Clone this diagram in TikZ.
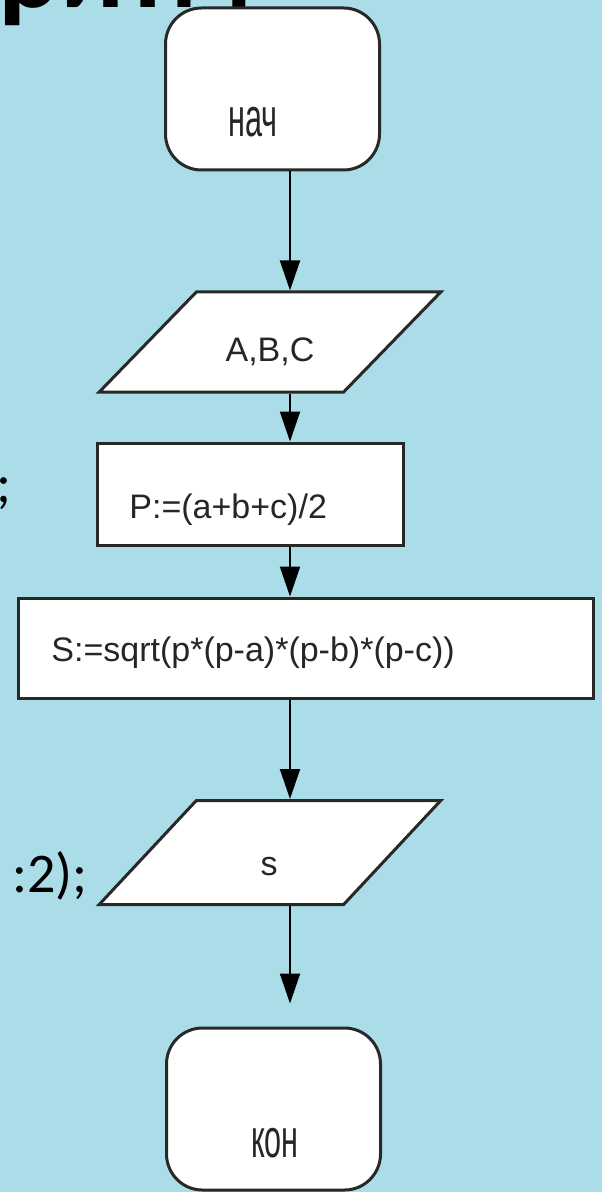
\documentclass[tikz,border=0pt]{standalone}
\usepackage{fontspec}
\setmainfont{Liberation Sans}
\newfontfamily\slidefont{Carlito}
\usetikzlibrary{shapes.geometric,arrows.meta}
\definecolor{water}{RGB}{170,221,231}
\definecolor{edge}{RGB}{40,40,40}

\begin{document}
\begin{tikzpicture}[x=0.5pt,y=-0.5pt,
  term/.style={draw=edge,fill=white,line width=1.5pt,rounded corners=18pt,
    minimum width=107pt,minimum height=81pt},
  io/.style={trapezium,trapezium stretches=true,trapezium left angle=56.6,
    trapezium right angle=123.4,draw=edge,fill=white,line width=1.5pt,
    minimum width=171pt,minimum height=50pt},
  proc/.style={rectangle,draw=edge,fill=white,line width=1.5pt,minimum height=51pt},
  lbl/.style={inner sep=0,text=black!85,font=\fontsize{17}{17}\selectfont},
  flow/.style={line width=1pt,-{Triangle[length=15pt,width=10pt]}}]

\useasboundingbox (0,0) rectangle (602,1192);
\fill[water] (0,0) rectangle (602,1192);
\begin{scope}
\clip (0,0) rectangle (602,1192);

% slide text behind the chart
\node[font=\slidefont\bfseries\fontsize{58}{58}\selectfont,anchor=base east,inner sep=0] (title) at (253,8) {ритм};
\node[font=\slidefont\fontsize{28}{28}\selectfont,anchor=base east,inner sep=0] (semiA) at (12,502) {;};
\node[font=\slidefont\fontsize{28}{28}\selectfont,anchor=base east,inner sep=0] (semiB) at (88,892) {:2);};

% blocks
\node[term] (start) at (272.5,89) {};
\node[io] (in) at (270,342) {};
\node[proc,minimum width=153pt] (calcP) at (250,494) {};
\node[proc,minimum width=287.5pt,minimum height=50pt] (calcS) at (305.5,648) {};
\node[io,minimum height=52pt] (out) at (270,852.5) {};
\node[term] (stop) at (273.5,1109) {};

% texts
\node[lbl] (startT) at (253,122) {\scalebox{0.9}[1.6]{нач}};
\node[lbl] (inT) at (270,352) {A,B,C};
\node[lbl,anchor=west] (calcPT) at (129,510) {P:=(a+b+c)/2};
\node[lbl,anchor=west] (calcST) at (51,653) {S:=sqrt(p*(p-a)*(p-b)*(p-c))};
\node[lbl] (outT) at (269,867) {s};
\node[lbl] (stopT) at (275,1143) {\scalebox{0.9}[1.6]{кон}};

% arrows
\coordinate (axis) at (290,0);
\draw[flow] (start.south -| axis) -- (in.north -| axis);
\draw[flow] (in.south -| axis) -- (calcP.north -| axis);
\draw[flow] (calcP.south -| axis) -- (calcS.north -| axis);
\draw[flow] (calcS.south -| axis) -- (out.north -| axis);
\draw[flow,shorten >=11.5pt] (out.south -| axis) -- (stop.north -| axis);
\end{scope}
\end{tikzpicture}
\end{document}
